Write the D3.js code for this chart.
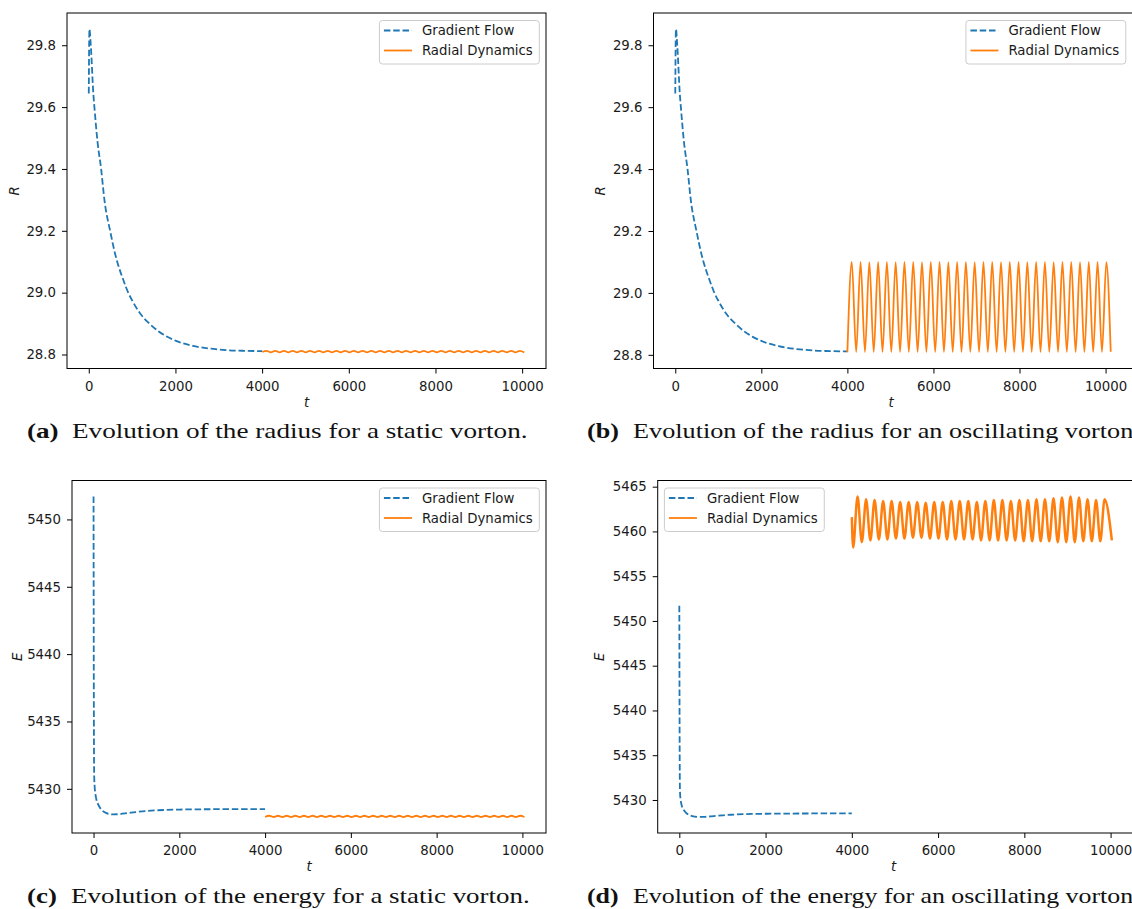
<!DOCTYPE html>
<html>
<head>
<meta charset="utf-8">
<script src="https://cdn.jsdelivr.net/npm/d3@7"></script>
<style>
  html, body { margin: 0; padding: 0; background: #fff; }
  svg { display: block; }
</style>
</head>
<body>
<svg id="fig" width="1132" height="909"></svg>
<script>
// ---- Gradient flow: radius R(t) ----
const tGradR = [0, 15, 46, 107, 130, 200, 285, 361, 500, 600, 700, 800, 910, 1000, 1200, 1400, 1600, 1800, 2000, 2400, 2800, 3200, 3600, 4000];
const gradR  = [29.644, 29.852, 29.80, 29.64, 29.60, 29.49, 29.40, 29.30, 29.195, 29.13, 29.08, 29.04, 29.00, 28.975, 28.93, 28.90, 28.876, 28.858, 28.845, 28.828, 28.819, 28.814, 28.812, 28.811];

// ---- Gradient flow: energy E(t) ----
const tGradE = [0, 5, 10, 15, 25, 40, 60, 100, 150, 200, 300, 450, 600, 800, 1000, 1200, 1500, 2000, 2500, 3000, 3500, 4000];
const gradE  = [5451.7, 5440.0, 5433.0, 5431.0, 5430.2, 5429.7, 5429.3, 5428.9, 5428.6, 5428.4, 5428.2, 5428.1, 5428.12, 5428.2, 5428.28, 5428.35, 5428.41, 5428.46, 5428.48, 5428.49, 5428.5, 5428.5];

// ---- Radial dynamics, static vorton (turning points of the small wobble) ----
const tRadStatic = [4000, 4101, 4202, 4302, 4403, 4504, 4605, 4706, 4806, 4907, 5008, 5109, 5210, 5310, 5411, 5512, 5613, 5714, 5814, 5915,
  6016, 6117, 6218, 6318, 6419, 6520, 6621, 6722, 6822, 6923, 7024, 7125, 7226, 7326, 7427, 7528, 7629, 7730, 7830, 7931,
  8032, 8133, 8234, 8334, 8435, 8536, 8637, 8738, 8838, 8939, 9040, 9141, 9242, 9342, 9443, 9544, 9645, 9746, 9846, 9947, 10048];
const radRStatic = [28.808, 28.812, 28.807, 28.812, 28.807, 28.812, 28.807, 28.812, 28.807, 28.812,
  28.807, 28.812, 28.807, 28.812, 28.807, 28.812, 28.807, 28.812, 28.807, 28.812,
  28.807, 28.812, 28.807, 28.812, 28.807, 28.812, 28.807, 28.812, 28.807, 28.812,
  28.807, 28.812, 28.807, 28.812, 28.807, 28.812, 28.807, 28.812, 28.807, 28.812,
  28.807, 28.812, 28.807, 28.812, 28.807, 28.812, 28.807, 28.812, 28.807, 28.812,
  28.807, 28.812, 28.807, 28.812, 28.807, 28.812, 28.807, 28.812, 28.807, 28.812, 28.807];
const radEStatic = [5427.92, 5428.00, 5427.91, 5428.00, 5427.91, 5428.00, 5427.91, 5428.00, 5427.91, 5428.00,
  5427.91, 5428.00, 5427.91, 5428.00, 5427.91, 5428.00, 5427.91, 5428.00, 5427.91, 5428.00,
  5427.91, 5428.00, 5427.91, 5428.00, 5427.91, 5428.00, 5427.91, 5428.00, 5427.91, 5428.00,
  5427.91, 5428.00, 5427.91, 5428.00, 5427.91, 5428.00, 5427.91, 5428.00, 5427.91, 5428.00,
  5427.91, 5428.00, 5427.91, 5428.00, 5427.91, 5428.00, 5427.91, 5428.00, 5427.91, 5428.00,
  5427.91, 5428.00, 5427.91, 5428.00, 5427.91, 5428.00, 5427.91, 5428.00, 5427.91, 5428.00, 5427.91];

// ---- Radial dynamics, oscillating vorton: radius (turning points) ----
const tRadOscR = [4000, 4102, 4204, 4306, 4408, 4510, 4612, 4714, 4816, 4918, 5020, 5122, 5224, 5326, 5428, 5530, 5632, 5734, 5836, 5938,
  6040, 6142, 6244, 6346, 6448, 6550, 6652, 6754, 6856, 6958, 7060, 7162, 7264, 7366, 7468, 7570, 7672, 7774, 7876, 7978,
  8080, 8182, 8284, 8386, 8488, 8590, 8692, 8794, 8896, 8998, 9100, 9202, 9304, 9406, 9508, 9610, 9712, 9814, 9916, 10018, 10120];
const radROsc = [28.808, 29.100, 28.809, 29.100, 28.809, 29.099, 28.809, 29.100, 28.809, 29.100,
  28.809, 29.099, 28.809, 29.100, 28.809, 29.100, 28.809, 29.099, 28.809, 29.100,
  28.809, 29.100, 28.809, 29.099, 28.809, 29.100, 28.809, 29.100, 28.809, 29.099,
  28.809, 29.100, 28.809, 29.100, 28.809, 29.099, 28.809, 29.100, 28.809, 29.100,
  28.809, 29.099, 28.809, 29.100, 28.809, 29.100, 28.809, 29.099, 28.809, 29.100,
  28.809, 29.100, 28.809, 29.099, 28.809, 29.100, 28.809, 29.100, 28.809, 29.099, 28.810];

// ---- Radial dynamics, oscillating vorton: energy (turning points) ----
const tRadOscE = [4000, 4030, 4133, 4232, 4331, 4430, 4528, 4627, 4726, 4825, 4923, 5022, 5121, 5220, 5318, 5417, 5516, 5615, 5713, 5812,
  5911, 6010, 6108, 6207, 6306, 6405, 6503, 6602, 6701, 6800, 6898, 6997, 7096, 7195, 7293, 7392, 7491, 7590, 7688, 7787,
  7886, 7985, 8083, 8182, 8281, 8380, 8478, 8577, 8676, 8775, 8873, 8972, 9071, 9170, 9268, 9367, 9466, 9565, 9663, 9762, 9861, 10030];
const radEOsc = [5461.6, 5458.2,
  5463.9, 5458.8, 5463.6, 5459.0, 5463.5, 5459.1, 5463.4, 5459.1, 5463.4, 5459.2,
  5463.3, 5459.2, 5463.3, 5459.3, 5463.3, 5459.3, 5463.2, 5459.2, 5463.3, 5459.2,
  5463.3, 5459.1, 5463.4, 5459.1, 5463.4, 5459.1, 5463.4, 5459.1, 5463.3, 5459.0,
  5463.4, 5459.0, 5463.5, 5459.0, 5463.5, 5459.0, 5463.4, 5459.0, 5463.5, 5458.9,
  5463.5, 5458.9, 5463.6, 5458.9, 5463.6, 5458.9, 5463.7, 5458.8, 5463.8, 5458.8,
  5463.9, 5458.8, 5463.8, 5458.9, 5463.6, 5458.9, 5463.5, 5458.9,
  5463.6, 5459.0];

// ---- Ticks, labels, captions ----
const tTicks = [0, 2000, 4000, 6000, 8000, 10000];
const rTicks = [28.8, 29.0, 29.2, 29.4, 29.6, 29.8];
const eTicksStatic = [5430, 5435, 5440, 5445, 5450];
const eTicksOsc = [5430, 5435, 5440, 5445, 5450, 5455, 5460, 5465];
const legendLabels = ["Gradient Flow", "Radial Dynamics"];
const captionTags = ["(a)", "(b)", "(c)", "(d)"];
const captionTexts = [
  "Evolution of the radius for a static vorton.",
  "Evolution of the radius for an oscillating vorton.",
  "Evolution of the energy for a static vorton.",
  "Evolution of the energy for an oscillating vorton."
];

const BLUE = "#1f77b4", ORANGE = "#ff7f0e";
const SANS = "'DejaVu Sans', sans-serif";
const SERIF = "'Liberation Serif', 'Times New Roman', serif";
const FS = 13.3;

const svg = d3.select("#fig");
svg.append("rect").attr("width", 1132).attr("height", 909).attr("fill", "#fff");

function padded(ext) {
  const s = ext[1] - ext[0];
  return [ext[0] - 0.05 * s, ext[1] + 0.05 * s];
}

const panels = [
  { id: "a", l: 67, r: 546, t: 13, b: 368.5, ylab: "R", ylabX: 14, yTicks: rTicks, yFmt: d3.format(".1f"), legend: "right",
    series: [
      { t: tGradR, v: gradR, color: BLUE, dash: "6.5,2.8", w: 1.8 },
      { t: tRadStatic, v: radRStatic, color: ORANGE, w: 1.8 }
    ] },
  { id: "b", l: 653.5, r: 1132.5, t: 13, b: 368.5, ylab: "R", ylabX: 600, yTicks: rTicks, yFmt: d3.format(".1f"), legend: "right",
    series: [
      { t: tGradR, v: gradR, color: BLUE, dash: "6.5,2.8", w: 1.8 },
      { t: tRadOscR, v: radROsc, color: ORANGE, w: 1.8 }
    ] },
  { id: "c", l: 72, r: 546, t: 480.5, b: 833, ylab: "E", ylabX: 17, yTicks: eTicksStatic, yFmt: d3.format("d"), legend: "right",
    series: [
      { t: tGradE, v: gradE, color: BLUE, dash: "6.5,2.8", w: 1.8 },
      { t: tRadStatic, v: radEStatic, color: ORANGE, w: 1.8 }
    ] },
  { id: "d", l: 657.7, r: 1133.5, t: 480.5, b: 833, ylab: "E", ylabX: 599.5, yTicks: eTicksOsc, yFmt: d3.format("d"), legend: "left",
    series: [
      { t: tGradE, v: gradE, color: BLUE, dash: "6.5,2.8", w: 1.8 },
      { t: tRadOscE, v: radEOsc, color: ORANGE, w: 2.5 }
    ] }
];

function drawPanel(p) {
  const g = svg.append("g").attr("class", "panel-" + p.id);
  const allT = p.series.flatMap(s => s.t);
  const allV = p.series.flatMap(s => s.v);
  const x = d3.scaleLinear().domain(padded(d3.extent(allT))).range([p.l, p.r]);
  const y = d3.scaleLinear().domain(padded(d3.extent(allV))).range([p.b, p.t]);

  const clipId = "clip-" + p.id;
  svg.append("clipPath").attr("id", clipId)
    .append("rect").attr("x", p.l).attr("y", p.t).attr("width", p.r - p.l).attr("height", p.b - p.t);

  const lineGen = d3.line().x(d => x(d[0])).y(d => y(d[1])).curve(d3.curveMonotoneX);
  const plot = g.append("g").attr("clip-path", `url(#${clipId})`);
  p.series.forEach(s => {
    plot.append("path")
      .datum(d3.zip(s.t, s.v))
      .attr("d", lineGen)
      .attr("fill", "none")
      .attr("stroke", s.color)
      .attr("stroke-width", s.w)
      .attr("stroke-dasharray", s.dash || null)
      .attr("stroke-linejoin", "round");
  });

  // axes frame
  g.append("rect")
    .attr("x", p.l).attr("y", p.t).attr("width", p.r - p.l).attr("height", p.b - p.t)
    .attr("fill", "none").attr("stroke", "#000").attr("stroke-width", 1);

  const gx = g.append("g").attr("transform", `translate(0,${p.b})`)
    .call(d3.axisBottom(x).tickValues(tTicks).tickFormat(d3.format("d")).tickSize(5).tickPadding(8));
  const gy = g.append("g").attr("transform", `translate(${p.l},0)`)
    .call(d3.axisLeft(y).tickValues(p.yTicks).tickFormat(p.yFmt).tickSize(5).tickPadding(6));
  [gx, gy].forEach(ax => {
    ax.select(".domain").remove();
    ax.attr("font-family", SANS).attr("font-size", FS);
    ax.selectAll("line").attr("stroke", "#000").attr("stroke-width", 1);
    ax.selectAll("text").attr("fill", "#1a1a1a");
  });

  // axis labels
  g.append("text")
    .attr("x", (p.l + p.r) / 2 - (p.id === "b" || p.id === "d" ? 2 : 0)).attr("y", p.b + 38)
    .attr("text-anchor", "middle").attr("font-family", SANS).attr("font-style", "italic")
    .attr("font-size", FS).attr("fill", "#1a1a1a").text("t");
  g.append("text")
    .attr("transform", `translate(${p.ylabX + 4.5},${(p.t + p.b) / 2}) rotate(-90)`)
    .attr("text-anchor", "middle").attr("font-family", SANS).attr("font-style", "italic")
    .attr("font-size", FS).attr("fill", "#1a1a1a").text(p.ylab);

  // legend
  const lg = g.append("g");
  const probe = lg.append("text").attr("font-family", SANS).attr("font-size", FS);
  const textW = d3.max(legendLabels, s => { probe.text(s); return probe.node().getComputedTextLength(); });
  probe.remove();
  const boxW = 42.5 + textW + 6.5, boxH = 43.5;
  const boxL = p.legend === "right" ? p.r - 6.7 - boxW : p.l + 6.7;
  const boxT = p.t + 7.5;
  lg.append("rect")
    .attr("x", boxL).attr("y", boxT).attr("width", boxW).attr("height", boxH)
    .attr("rx", 3).attr("ry", 3)
    .attr("fill", "#fff").attr("fill-opacity", 0.8)
    .attr("stroke", "#cccccc").attr("stroke-width", 1);
  legendLabels.forEach((lab, i) => {
    const s = p.series[i];
    const cy = boxT + 10 + i * 20;
    lg.append("line")
      .attr("x1", boxL + 4.5).attr("x2", boxL + 32.5).attr("y1", cy).attr("y2", cy)
      .attr("stroke", s.color).attr("stroke-width", 1.8)
      .attr("stroke-dasharray", s.dash || null);
    lg.append("text")
      .attr("x", boxL + 42.5).attr("y", cy).attr("dy", "0.36em")
      .attr("font-family", SANS).attr("font-size", FS).attr("fill", "#1a1a1a")
      .text(lab);
  });
}

panels.forEach(drawPanel);

// ---- captions ----
const capFS = 21;
function measure(str, weight) {
  const t = svg.append("text").attr("font-family", SERIF).attr("font-size", capFS)
    .attr("font-weight", weight).text(str);
  const w = t.node().getComputedTextLength();
  t.remove();
  return w;
}
// caption body widths in px: left column fits its panel, right column runs past the page edge
const capWidths = [456, 507, 459, 507];
const capLayout = [
  { tagX: 27, bodyX: 72, y: 438 },
  { tagX: 587, bodyX: 633, y: 438 },
  { tagX: 27, bodyX: 71, y: 903 },
  { tagX: 587, bodyX: 633, y: 903 }
];
capLayout.forEach((c, i) => {
  const k = capWidths[i] / measure(captionTexts[i], "normal");
  svg.append("text")
    .attr("transform", `translate(${c.tagX},${c.y}) scale(${k},1)`)
    .attr("font-family", SERIF).attr("font-size", capFS).attr("font-weight", "bold")
    .attr("fill", "#111").text(captionTags[i]);
  svg.append("text")
    .attr("transform", `translate(${c.bodyX},${c.y}) scale(${k},1)`)
    .attr("font-family", SERIF).attr("font-size", capFS)
    .attr("fill", "#111").text(captionTexts[i]);
});
</script>
</body>
</html>
